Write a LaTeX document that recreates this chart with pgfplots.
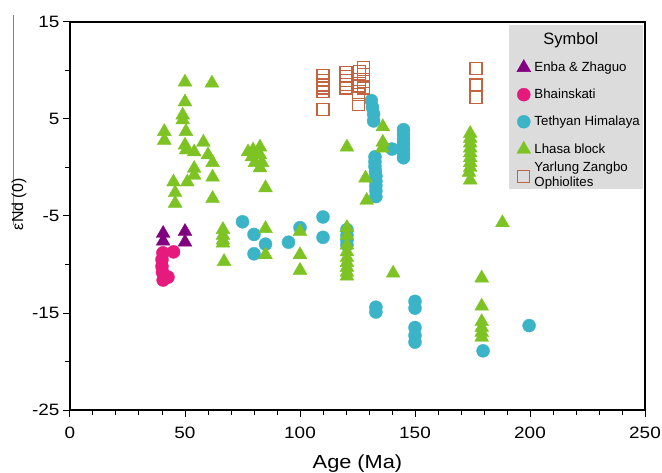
\documentclass[border=0pt]{standalone}
\usepackage{pgfplots}
\pgfplotsset{compat=1.18}
\usepackage{fontspec}
\setmainfont{Liberation Sans}
\newfontfamily\widefont{Liberation Sans}[FakeStretch=1.15]
\definecolor{enba}{RGB}{128,0,128}
\definecolor{bhain}{RGB}{230,25,125}
\definecolor{teth}{RGB}{60,180,200}
\definecolor{lhasa}{RGB}{125,195,35}
\definecolor{yz}{RGB}{195,100,65}
\definecolor{legbg}{RGB}{220,220,220}
\begin{document}
\begin{tikzpicture}
\begin{axis}[
  scale only axis, width=575bp, height=388bp,
  xmin=0, xmax=250, ymin=-25, ymax=15,
  xtick={0,50,...,250}, minor x tick num=4,
  ytick={-25,-15,-5,5,15}, minor y tick num=1,
  xtick pos=bottom, ytick pos=left, tick align=outside,
  major tick length=7bp, minor tick length=5bp,
  tick style={black, line width=1bp},
  axis line style={line width=2bp},
  /pgf/number format/assume math mode=true,
  ticklabel style={font=\widefont\fontsize{16.5}{19}\selectfont},
  xticklabel style={yshift=-7bp},
  xlabel={Age (Ma)}, ylabel={εNd (0)},
  xlabel style={font=\widefont\fontsize{19}{22}\selectfont, yshift=-9bp},
  ylabel style={font=\fontsize{16}{18}\selectfont, at={(ticklabel cs:0.53)}, yshift=-1bp},
  clip=false,
  legend image code/.code={%
    \path (-5bp,0) (0.6cm,0);
    \draw[mark repeat=2,mark phase=2,#1] plot coordinates {(0cm,0cm) (0.3cm,0cm) (0.6cm,0cm)};},
  legend style={at={(1,1)}, anchor=north east, xshift=-2bp, yshift=-3bp,
    fill=legbg, draw=none, font=\fontsize{13.3}{15}\selectfont,
    row sep=12bp, column sep=0bp, inner xsep=1bp, inner ysep=5bp, cells={anchor=west}},
  legend cell align=left,
]
\addlegendimage{empty legend}
\addlegendentry{\fontsize{16.5}{18}\selectfont\hspace{9bp}Symbol}

% Enba & Zhaguo
\addplot[only marks, mark=triangle*, mark size=8bp, color=enba] coordinates {
(40.5,-6.8) (40.5,-7.6) (50,-6.6) (50,-7.7)
};
\addlegendentry{Enba \& Zhaguo}

% Bhainskati
\addplot[only marks, mark=*, mark size=6.5bp, color=bhain] coordinates {
(40.4,-8.8) (40,-9.5) (40,-10.2) (40.2,-10.8) (40.5,-11.6) (42.6,-11.3) (45,-8.7)
};
\addlegendentry{Bhainskati}

% Tethyan Himalaya
\addplot[only marks, mark=*, mark size=6.5bp, color=teth] coordinates {
(75,-5.6) (80,-6.9) (80,-8.9) (85,-7.9) (95,-7.7) (100,-6.2) (110,-5.1) (110,-7.2)
(120.4,-6.4) (120.4,-7) (120.4,-7.5) (120.4,-8)
(131,6.9) (131.5,6.2) (132,5.5) (132,4.8)
(140,1.9)
(145,3.9) (145,3.4) (145,2.9) (145,2.4) (145,1.9) (145,1.4) (145,1.0)
(132.6,1.1) (132.6,0.6) (132.6,0.1) (132.8,-0.4) (133,-0.9) (133,-1.4) (133,-1.9) (133,-2.4) (133,-3.0)
(133,-14.4) (133,-14.9)
(150,-13.8) (150,-14.5) (150,-16.5) (150,-17.3) (150,-18)
(179.6,-18.9) (199.6,-16.3)
};
\addlegendentry{Tethyan Himalaya}

% Lhasa block
\addplot[only marks, mark=triangle*, mark size=8bp, color=lhasa] coordinates {
(50,8.8) (61.7,8.7) (50,6.75) (49,5.4) (49,4.9) (50.4,3.7) (41,3.7) (41,2.8)
(50,2.3) (50.5,1.8) (58,2.6) (54,1.6) (60,1.3) (62,0.5) (54,-0.1) (54,-0.8)
(62,-1) (45,-1.5) (51,-1.5) (45.7,-2.6) (45.7,-3.7) (62,-3.2)
(77.4,1.6) (79.6,1.8) (82.6,2.1) (79.1,1.1) (82.6,1.3) (80.4,0.5) (83.5,0.5) (82.6,-0.05)
(85,-2.1)
(85,-6.3) (85,-9.0) (66.5,-6.4) (66.5,-7) (66.5,-7.5) (66.5,-7.8) (67,-9.7)
(100,-6.6) (100,-9) (100,-10.6)
(120.4,-6.2) (120.4,-7) (120.4,-8) (120.4,-8.7) (120.4,-9.3) (120.4,-9.8) (120.4,-10.3) (120.4,-10.8) (120.4,-11.2)
(120.4,2.1) (128.5,-1.1) (129,-3.4) (136,4.2) (136,2.6) (135.8,2.0) (140.5,-10.9) (188,-5.7)
(174,3.5) (174,3.0) (174,2.5) (174,2.0) (174,1.5) (174,1.0) (174,0.5) (174,0) (173.5,-0.5) (174,-1.3)
(179,-11.4) (179,-14.3) (179,-15.9) (179,-16.5) (179,-17) (179,-17.5)
};
\addlegendentry{Lhasa block}

% Yarlung Zangbo Ophiolites
\addplot[only marks, mark=square, mark size=6bp, color=yz, mark options={line width=1.1bp}] coordinates {
(110,9.5) (110,9.0) (110,8.5) (110,8.2) (110,7.8) (110,6.0)
(120,9.8) (120,9.4) (120,9.0) (120,8.6) (120,8.2)
(127.5,10.3) (127.5,9.6) (127.5,8.9) (127.5,8.2) (126,9.9) (126,9.1) (126,8.4) (125.5,7.5) (125.5,6.5)
(176.5,10.2) (176.5,8.5) (176.5,7.2)
};
\addlegendentry{\raisebox{-6bp}[10bp][3bp]{\shortstack[l]{Yarlung Zangbo\\Ophiolites}}}

\draw[gray, line width=0.7bp] (axis description cs:-0.099,1.018) -- (axis description cs:-0.099,0.477);
\end{axis}
\pgfresetboundingbox
\path[use as bounding box] ([shift={(-70bp,-63bp)}]current axis.south west) rectangle ([shift={(17bp,22bp)}]current axis.north east);
\end{tikzpicture}
\end{document}
